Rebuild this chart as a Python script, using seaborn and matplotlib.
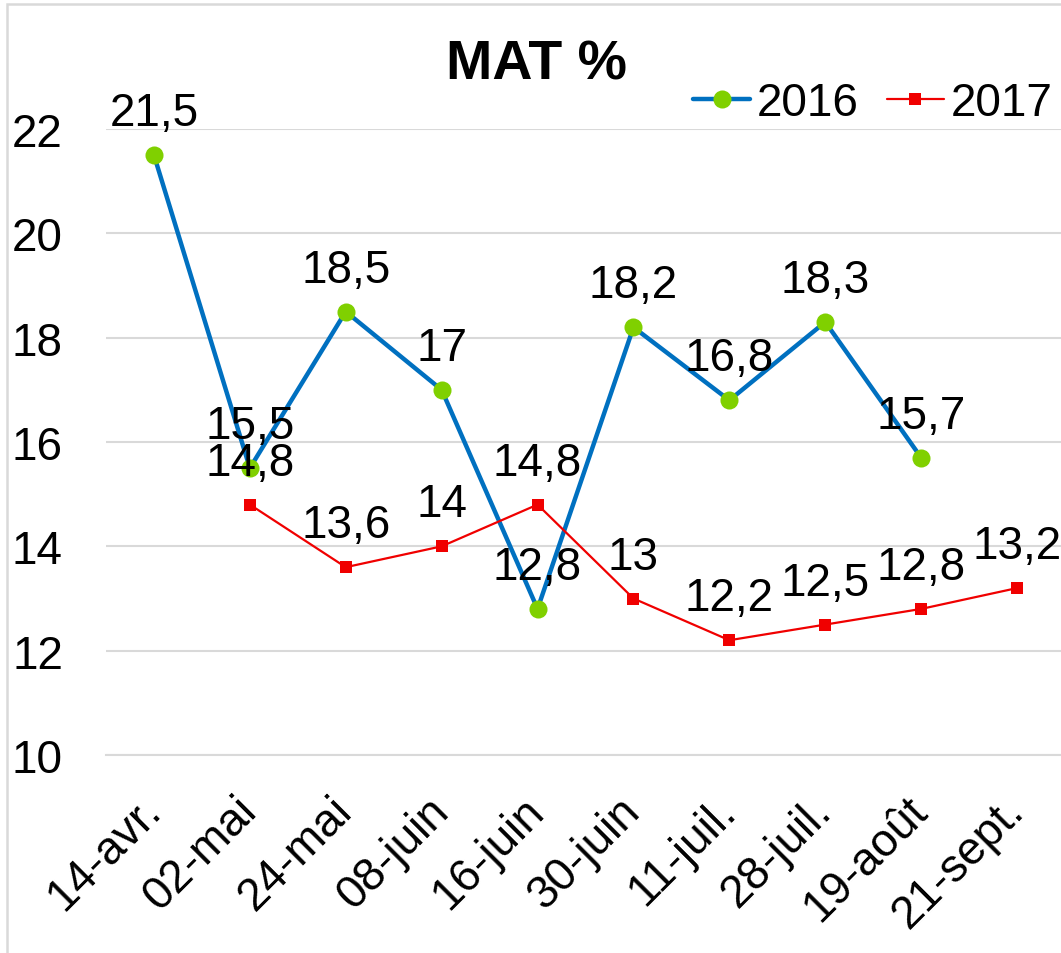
import matplotlib
matplotlib.use("Agg")
import matplotlib.pyplot as plt
from matplotlib.patches import Rectangle
import seaborn as sns

# data
dates_2016 = ["14-avr.", "02-mai", "24-mai", "08-juin", "16-juin",
              "30-juin", "11-juil.", "28-juil.", "19-août"]
mat_2016 = [21.5, 15.5, 18.5, 17, 12.8, 18.2, 16.8, 18.3, 15.7]

dates_2017 = ["02-mai", "24-mai", "08-juin", "16-juin", "30-juin",
              "11-juil.", "28-juil.", "19-août", "21-sept."]
mat_2017 = [14.8, 13.6, 14, 14.8, 13, 12.2, 12.5, 12.8, 13.2]

y_ticks = [10, 12, 14, 16, 18, 20, 22]

BLUE = "#0070C0"
GREEN = "#80D000"
RED = "#F00000"
GRID = "#D9D9D9"
FS = 33

sns.set_theme(style="white")
plt.rcParams["font.family"] = ["Liberation Sans", "DejaVu Sans"]
plt.rcParams["text.color"] = "black"

fig = plt.figure(figsize=(10.61, 9.54), dpi=100)
ax = fig.add_axes([106 / 1061, 198 / 954, 959 / 1061, 626 / 954])

sns.lineplot(x=dates_2016, y=mat_2016, sort=False, ax=ax, color=BLUE, lw=3.2,
             marker="o", markersize=13, markerfacecolor=GREEN, markeredgewidth=0,
             label="2016")
sns.lineplot(x=dates_2017, y=mat_2017, sort=False, ax=ax, color=RED, lw=1.6,
             marker="s", markersize=9, markerfacecolor=RED, markeredgewidth=0,
             label="2017")


def fmt(v):
    return f"{v:g}".replace(".", ",")


# data labels above each point
for dates, vals in [(dates_2016, mat_2016), (dates_2017, mat_2017)]:
    for d, v in zip(dates, vals):
        ax.annotate(fmt(v), xy=(d, v), xytext=(0, 21.5), textcoords="offset points",
                    ha="center", va="baseline", fontsize=FS, color="black")

ax.set_xlim(-0.5, 9.5)
ax.set_ylim(10, 22)
ax.set_yticks(y_ticks)
ax.set_yticklabels([str(t) for t in y_ticks], fontsize=FS, color="black")
ax.tick_params(axis="y", length=0, pad=31)

ax.set_xticks(range(10))
ax.set_xticks([i - 0.5 for i in range(11)], minor=True)
ax.tick_params(axis="x", which="major", length=0, pad=35)
ax.tick_params(axis="x", which="minor", length=9, width=1.5, color=GRID, direction="out")
for lab in ax.get_xticklabels():
    lab.set_rotation(45)
    lab.set_ha("right")
    lab.set_va("center")
    lab.set_rotation_mode("anchor")
    lab.set_fontsize(FS)
    lab.set_color("black")

ax.yaxis.grid(True, color=GRID, lw=1.5)
ax.xaxis.grid(False)
for s in ["left", "right", "top"]:
    ax.spines[s].set_visible(False)
ax.spines["bottom"].set_color(GRID)
ax.spines["bottom"].set_linewidth(1.5)
ax.set_xlabel("")
ax.set_ylabel("")

leg = ax.legend(loc="center left", bbox_to_anchor=(693 / 1061, 1 - 104 / 954),
                bbox_transform=fig.transFigure, ncol=2, frameon=False, fontsize=FS,
                borderpad=0, borderaxespad=0, handlelength=1.25, handletextpad=0.15,
                columnspacing=0.6)
for t in leg.get_texts():
    t.set_color("black")

fig.text(537 / 1061, 1 - 80 / 954, "MAT %", ha="center", va="baseline",
         fontsize=40, fontweight="bold", color="black")

# light frame around the chart
fig.patches.append(Rectangle((7 / 1061, -0.05), 1.1, 1.05 - 5 / 954,
                             transform=fig.transFigure, fill=False,
                             edgecolor=GRID, lw=1.8))

fig.savefig("out.png", dpi=100, facecolor="white")
